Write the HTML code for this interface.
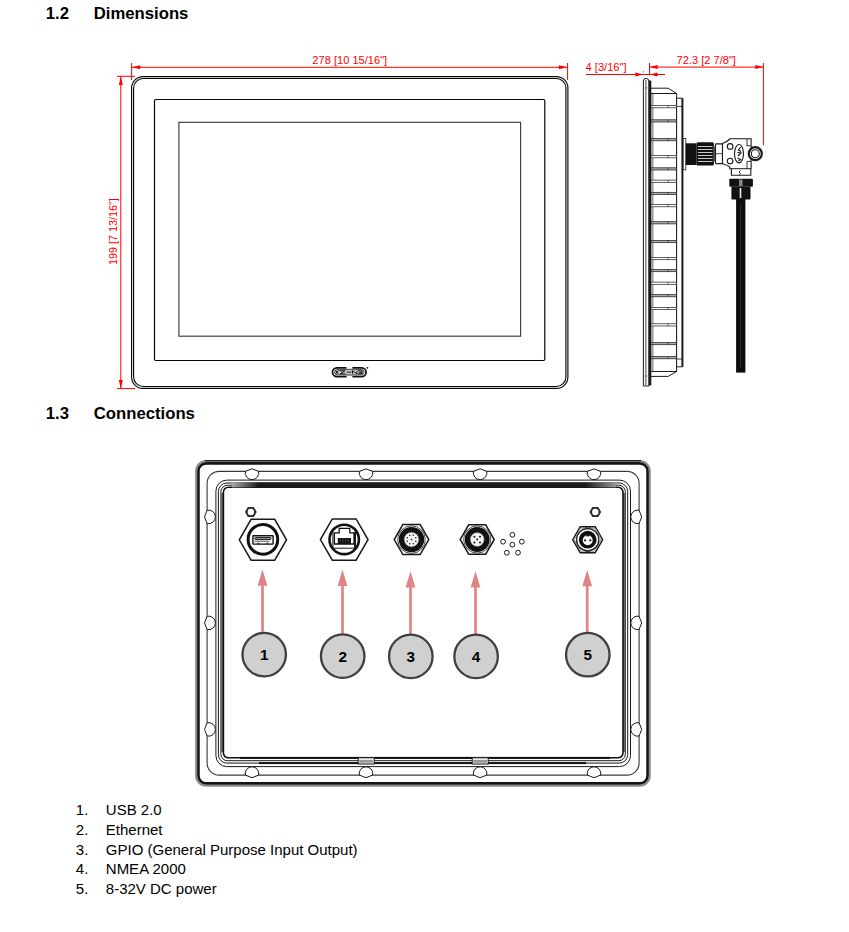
<!DOCTYPE html>
<html><head><meta charset="utf-8"><style>
html,body{margin:0;padding:0;background:#fff;width:849px;height:932px;overflow:hidden}
svg{position:absolute;left:0;top:0;display:block}
text{font-family:"Liberation Sans",sans-serif}
.h{font-size:16.7px;font-weight:bold;fill:#000}
.r{font-size:11.1px;fill:#ff0000}
.t{font-size:15px;fill:#000}
.n{font-size:15.3px;font-weight:bold;fill:#000}
</style></head><body>
<svg width="849" height="932" viewBox="0 0 849 932">
<text x="45.8" y="18.8" class="h">1.2</text>
<text x="93.8" y="18.8" class="h">Dimensions</text>
<text x="45.8" y="419.4" class="h">1.3</text>
<text x="93.8" y="419.4" class="h">Connections</text>
<rect x="131.6" y="76.6" width="436.3" height="311.8" rx="11.5" fill="none" stroke="#0a0a0a" stroke-width="1.15"/>
<rect x="133.6" y="78.5" width="432.3" height="308" rx="9.5" fill="none" stroke="#0a0a0a" stroke-width="1.15"/>
<rect x="154.5" y="99.5" width="390.3" height="261" rx="1.2" fill="none" stroke="#050505" stroke-width="1.2"/>
<rect x="178.9" y="122.3" width="341.7" height="213.9" fill="none" stroke="#3a3a3a" stroke-width="1.15"/>
<g><rect x="332.5" y="367.8" width="33.6" height="8.9" rx="4.45" fill="none" stroke="#111" stroke-width="1.8"/><rect x="346.4" y="366" width="6" height="2.8" fill="#fff"/><rect x="346.6" y="375.8" width="5.8" height="2.8" fill="#fff"/><rect x="334.6" y="369.6" width="29.4" height="5.3" rx="2.65" fill="#cfcfcf" stroke="#222" stroke-width="0.8"/><path d="M335.5,370.3 L338.5,374.2 M338.5,370.3 L335.5,374.2 M339.5,370.8 H345 L340,373.8 H345.5 M346.5,372.2 H351.5 M352.5,373.8 V370.8 L357,373.8 V370.8 M358,370.8 H362 V373.8 H358 M359,372.3 H362" fill="none" stroke="#111" stroke-width="1"/><circle cx="367.4" cy="367.8" r="0.9" fill="#111"/></g>
<line x1="131.6" y1="67.3" x2="567.6" y2="67.3" stroke="#ff0000" stroke-width="1"/>
<polygon points="131.80,67.30 140.30,65.30 140.30,69.30" fill="#ff0000"/>
<polygon points="567.40,67.30 558.90,69.30 558.90,65.30" fill="#ff0000"/>
<line x1="131.6" y1="63" x2="131.6" y2="80" stroke="#ff0000" stroke-width="1"/>
<line x1="567.6" y1="63" x2="567.6" y2="80" stroke="#ff0000" stroke-width="1"/>
<text x="312.3" y="63.5" class="r">278 [10 15/16"]</text>
<line x1="120.8" y1="76.3" x2="120.8" y2="388.6" stroke="#ff0000" stroke-width="1"/>
<polygon points="120.80,76.50 122.80,85.00 118.80,85.00" fill="#ff0000"/>
<polygon points="120.80,388.40 118.80,379.90 122.80,379.90" fill="#ff0000"/>
<line x1="116.8" y1="76.3" x2="135" y2="76.3" stroke="#ff0000" stroke-width="1"/>
<line x1="117" y1="388.6" x2="135" y2="388.6" stroke="#ff0000" stroke-width="1"/>
<text transform="translate(117.3,265.0) rotate(-90)" class="r" style="font-size:10.8px">199 [7 13/16"]</text>
<text x="585.6" y="70.6" class="r">4 [3/16"]</text>
<line x1="585.9" y1="74.5" x2="665" y2="74.5" stroke="#ff0000" stroke-width="1"/>
<polygon points="643.20,74.50 635.40,76.50 635.40,72.50" fill="#ff0000"/>
<polygon points="649.80,74.50 657.60,72.50 657.60,76.50" fill="#ff0000"/>
<circle cx="643.4" cy="71.8" r="0.6" fill="#ff0000"/>
<line x1="649.5" y1="63" x2="649.5" y2="74.5" stroke="#ff0000" stroke-width="1"/>
<line x1="649.5" y1="67.1" x2="763.4" y2="67.1" stroke="#ff0000" stroke-width="1"/>
<polygon points="649.80,67.10 657.60,65.10 657.60,69.10" fill="#ff0000"/>
<polygon points="763.10,67.10 755.30,69.10 755.30,65.10" fill="#ff0000"/>
<line x1="763.4" y1="63" x2="763.4" y2="145.4" stroke="#ff0000" stroke-width="1"/>
<text x="676.5" y="63.8" class="r">72.3 [2 7/8"]</text>
<path d="M643.4,386 V81 Q643.4,78.4 646,78.4 Q648.8,78.4 648.8,81 V386 Z" fill="#fff" stroke="#1a1a1a" stroke-width="1"/>
<line x1="645.9" y1="80" x2="645.9" y2="385" stroke="#1a1a1a" stroke-width="0.8"/>
<line x1="643.4" y1="87.9" x2="649" y2="87.9" stroke="#888" stroke-width="0.8"/>
<line x1="643.4" y1="376" x2="649" y2="376" stroke="#888" stroke-width="0.8"/>
<path d="M650.5,88.2 H668.2 L676.6,93.5 V371.5 L668.2,376.4 H650.5 Z" fill="#fff" stroke="#1a1a1a" stroke-width="1"/>
<line x1="650.5" y1="93.5" x2="676.6" y2="93.5" stroke="#1a1a1a" stroke-width="1"/>
<line x1="650.5" y1="371.5" x2="676.6" y2="371.5" stroke="#1a1a1a" stroke-width="1"/>
<rect x="648.9" y="80.5" width="2.4" height="305" fill="#1a1a1a"/>
<rect x="676.6" y="98.2" width="5.6" height="268.6" fill="#fff" stroke="#1a1a1a" stroke-width="1"/>
<rect x="681.6" y="98.2" width="1.8" height="268.6" fill="#1a1a1a"/>
<line x1="676.6" y1="106.4" x2="682" y2="106.4" stroke="#1a1a1a" stroke-width="0.8"/>
<line x1="676.6" y1="359" x2="682" y2="359" stroke="#1a1a1a" stroke-width="0.8"/>
<rect x="651.3" y="94" width="2.2" height="277" fill="#9a9a9a"/>
<rect x="651" y="105.60000000000001" width="25.6" height="2.2" fill="#fff" stroke="#1a1a1a" stroke-width="0.7"/>
<line x1="668.2" y1="105.60000000000001" x2="668.2" y2="107.8" stroke="#1a1a1a" stroke-width="0.6"/>
<rect x="651" y="119.80000000000001" width="25.6" height="2.2" fill="#aaa" stroke="#1a1a1a" stroke-width="0.7"/>
<line x1="668.2" y1="119.80000000000001" x2="668.2" y2="122.0" stroke="#1a1a1a" stroke-width="0.6"/>
<rect x="651" y="138.6" width="25.6" height="2.2" fill="#aaa" stroke="#1a1a1a" stroke-width="0.7"/>
<line x1="668.2" y1="138.6" x2="668.2" y2="140.79999999999998" stroke="#1a1a1a" stroke-width="0.6"/>
<rect x="651" y="155.6" width="25.6" height="2.2" fill="#fff" stroke="#1a1a1a" stroke-width="0.7"/>
<line x1="668.2" y1="155.6" x2="668.2" y2="157.79999999999998" stroke="#1a1a1a" stroke-width="0.6"/>
<rect x="651" y="167.8" width="25.6" height="2.2" fill="#aaa" stroke="#1a1a1a" stroke-width="0.7"/>
<line x1="668.2" y1="167.8" x2="668.2" y2="170.0" stroke="#1a1a1a" stroke-width="0.6"/>
<rect x="651" y="180.1" width="25.6" height="2.2" fill="#fff" stroke="#1a1a1a" stroke-width="0.7"/>
<line x1="668.2" y1="180.1" x2="668.2" y2="182.29999999999998" stroke="#1a1a1a" stroke-width="0.6"/>
<rect x="651" y="192.3" width="25.6" height="2.2" fill="#aaa" stroke="#1a1a1a" stroke-width="0.7"/>
<line x1="668.2" y1="192.3" x2="668.2" y2="194.5" stroke="#1a1a1a" stroke-width="0.6"/>
<rect x="651" y="204.6" width="25.6" height="2.2" fill="#fff" stroke="#1a1a1a" stroke-width="0.7"/>
<line x1="668.2" y1="204.6" x2="668.2" y2="206.79999999999998" stroke="#1a1a1a" stroke-width="0.6"/>
<rect x="651" y="221.70000000000002" width="25.6" height="2.2" fill="#aaa" stroke="#1a1a1a" stroke-width="0.7"/>
<line x1="668.2" y1="221.70000000000002" x2="668.2" y2="223.9" stroke="#1a1a1a" stroke-width="0.6"/>
<rect x="651" y="240.5" width="25.6" height="2.2" fill="#aaa" stroke="#1a1a1a" stroke-width="0.7"/>
<line x1="668.2" y1="240.5" x2="668.2" y2="242.7" stroke="#1a1a1a" stroke-width="0.6"/>
<rect x="651" y="257.5" width="25.6" height="2.2" fill="#fff" stroke="#1a1a1a" stroke-width="0.7"/>
<line x1="668.2" y1="257.5" x2="668.2" y2="259.70000000000005" stroke="#1a1a1a" stroke-width="0.6"/>
<rect x="651" y="269.5" width="25.6" height="2.2" fill="#aaa" stroke="#1a1a1a" stroke-width="0.7"/>
<line x1="668.2" y1="269.5" x2="668.2" y2="271.70000000000005" stroke="#1a1a1a" stroke-width="0.6"/>
<rect x="651" y="282.09999999999997" width="25.6" height="2.2" fill="#fff" stroke="#1a1a1a" stroke-width="0.7"/>
<line x1="668.2" y1="282.09999999999997" x2="668.2" y2="284.3" stroke="#1a1a1a" stroke-width="0.6"/>
<rect x="651" y="294.59999999999997" width="25.6" height="2.2" fill="#aaa" stroke="#1a1a1a" stroke-width="0.7"/>
<line x1="668.2" y1="294.59999999999997" x2="668.2" y2="296.8" stroke="#1a1a1a" stroke-width="0.6"/>
<rect x="651" y="307.4" width="25.6" height="2.2" fill="#fff" stroke="#1a1a1a" stroke-width="0.7"/>
<line x1="668.2" y1="307.4" x2="668.2" y2="309.6" stroke="#1a1a1a" stroke-width="0.6"/>
<rect x="651" y="323.79999999999995" width="25.6" height="2.2" fill="#fff" stroke="#1a1a1a" stroke-width="0.7"/>
<line x1="668.2" y1="323.79999999999995" x2="668.2" y2="326.0" stroke="#1a1a1a" stroke-width="0.6"/>
<rect x="651" y="342.5" width="25.6" height="2.2" fill="#aaa" stroke="#1a1a1a" stroke-width="0.7"/>
<line x1="668.2" y1="342.5" x2="668.2" y2="344.70000000000005" stroke="#1a1a1a" stroke-width="0.6"/>
<rect x="651" y="356.59999999999997" width="25.6" height="2.2" fill="#aaa" stroke="#1a1a1a" stroke-width="0.7"/>
<line x1="668.2" y1="356.59999999999997" x2="668.2" y2="358.8" stroke="#1a1a1a" stroke-width="0.6"/>
<rect x="683.2" y="138.5" width="2.6" height="31.3" fill="#fff" stroke="#1a1a1a" stroke-width="0.8"/>
<rect x="685.8" y="143.3" width="10.6" height="21.7" fill="#111"/>
<rect x="696.4" y="142.2" width="17.5" height="23.3" rx="1.5" fill="#111"/>
<line x1="698" y1="146.5" x2="712.5" y2="146.5" stroke="#ddd" stroke-width="0.9"/>
<line x1="698" y1="149.5" x2="712.5" y2="149.5" stroke="#ddd" stroke-width="0.9"/>
<line x1="698" y1="152.5" x2="712.5" y2="152.5" stroke="#ddd" stroke-width="0.9"/>
<line x1="698" y1="155.5" x2="712.5" y2="155.5" stroke="#ddd" stroke-width="0.9"/>
<line x1="698" y1="158.5" x2="712.5" y2="158.5" stroke="#ddd" stroke-width="0.9"/>
<line x1="698" y1="161.5" x2="712.5" y2="161.5" stroke="#ddd" stroke-width="0.9"/>
<rect x="713.3" y="146.5" width="2.4" height="15" fill="#555"/>
<rect x="715.5" y="143.9" width="7" height="19.7" rx="0.8" fill="#fff" stroke="#1a1a1a" stroke-width="1.1"/>
<line x1="716" y1="153.7" x2="722" y2="153.7" stroke="#1a1a1a" stroke-width="0.8"/>
<path d="M722.5,143.6 Q727,142 729.8,139 V138.8 H751.1 V168.7 H750.8 V175.3 H731.4 V168.7 H729.8 V167 Q727,165 722.5,163.8 Z" fill="#fff" stroke="#1a1a1a" stroke-width="1.1"/>
<line x1="731.4" y1="168.7" x2="750.8" y2="168.7" stroke="#1a1a1a" stroke-width="1"/>
<path d="M747,138.8 V145.8 H751 M747,168.7 V161.4 H751" fill="none" stroke="#1a1a1a" stroke-width="0.9"/>
<circle cx="730.1" cy="146.4" r="2.8" fill="#fff" stroke="#1a1a1a" stroke-width="1.1"/>
<circle cx="730.1" cy="161" r="2.8" fill="#fff" stroke="#1a1a1a" stroke-width="1.1"/>
<ellipse cx="739" cy="153.7" rx="4.5" ry="9.2" fill="#fff" stroke="#1a1a1a" stroke-width="1.1"/>
<path d="M740.5,147 L738.5,150 L741,151.5 M737.5,152.5 L741,153 L738,156 M737.5,158 L740.5,159.5 L738.5,161" fill="none" stroke="#1a1a1a" stroke-width="1.2"/>
<circle cx="755.3" cy="153.7" r="6.5" fill="#fff" stroke="#1a1a1a" stroke-width="2.2"/>
<circle cx="755.3" cy="153.7" r="4" fill="#fff" stroke="#1a1a1a" stroke-width="1.1"/>
<path d="M740.5,170.5 l-1.5,1.5 l1.5,1.5 l-1.5,1.5" fill="none" stroke="#1a1a1a" stroke-width="0.9"/>
<rect x="729.3" y="178.8" width="23.6" height="7.9" rx="1" fill="#111"/>
<rect x="739" y="179.5" width="3.5" height="6.5" fill="#888"/>
<rect x="731.4" y="186.7" width="19.1" height="12.7" rx="1" fill="#111"/>
<rect x="739.7" y="188" width="1.6" height="10" fill="#eee"/>
<rect x="736.1" y="199" width="9.3" height="173.6" fill="#0d0d0d"/>
<line x1="740.6" y1="205" x2="740.6" y2="368" stroke="#555" stroke-width="0.5"/>
<rect x="196.15" y="461.05" width="453.6" height="324.7" rx="10" fill="none" stroke="#8c8c8c" stroke-width="2.1"/>
<rect x="198.45" y="463.4" width="449.1" height="320" rx="7.7" fill="none" stroke="#141414" stroke-width="2.6"/>
<line x1="205" y1="460.6" x2="641" y2="460.6" stroke="#222" stroke-width="1.1"/>
<rect x="207.1" y="471.4" width="432" height="303.7" rx="12" fill="none" stroke="#3a3a3a" stroke-width="1.1"/>
<rect x="215.9" y="480.1" width="414.6" height="286.5" rx="11" fill="none" stroke="#1a1a1a" stroke-width="1"/>
<rect x="218.4" y="483" width="409.3" height="280.1" rx="8.5" fill="none" stroke="#1a1a1a" stroke-width="1"/>
<rect x="220.9" y="485.2" width="404.4" height="275.5" rx="6.5" fill="none" stroke="#1a1a1a" stroke-width="1"/>
<line x1="222.2" y1="493" x2="222.2" y2="752" stroke="#666" stroke-width="2.2"/>
<line x1="624.2" y1="493" x2="624.2" y2="752" stroke="#666" stroke-width="2.2"/>
<rect x="223.4" y="487.2" width="399.6" height="270.6" rx="5" fill="none" stroke="#111" stroke-width="1.6"/>
<defs><linearGradient id="tb" x1="0" x2="1" y1="0" y2="0"><stop offset="0" stop-color="#aaa"/><stop offset="0.07" stop-color="#1a1a1a"/><stop offset="0.92" stop-color="#1a1a1a"/><stop offset="1" stop-color="#999"/></linearGradient></defs>
<rect x="232" y="482.4" width="384" height="5" fill="url(#tb)"/>
<rect x="259" y="762.1" width="327" height="2" fill="#111"/>
<rect x="240" y="756.9" width="370" height="2" fill="#111"/>
<rect x="358.2" y="757.8" width="16" height="6.2" fill="#fff" stroke="#1a1a1a" stroke-width="1"/>
<rect x="359.2" y="759.8" width="14" height="3" fill="#999"/>
<rect x="472.2" y="757.8" width="16" height="6.2" fill="#fff" stroke="#1a1a1a" stroke-width="1"/>
<rect x="473.2" y="759.8" width="14" height="3" fill="#999"/>
<path d="M258.63,471.40 A6.8,6.8 0 1 1 245.37,471.40 L252.00,468.80 Z" fill="#fff" stroke="#1a1a1a" stroke-width="1"/>
<path d="M245.37,775.10 A6.8,6.8 0 1 1 258.63,775.10 L252.00,777.70 Z" fill="#fff" stroke="#1a1a1a" stroke-width="1"/>
<path d="M372.63,471.40 A6.8,6.8 0 1 1 359.37,471.40 L366.00,468.80 Z" fill="#fff" stroke="#1a1a1a" stroke-width="1"/>
<path d="M359.37,775.10 A6.8,6.8 0 1 1 372.63,775.10 L366.00,777.70 Z" fill="#fff" stroke="#1a1a1a" stroke-width="1"/>
<path d="M486.73,471.40 A6.8,6.8 0 1 1 473.47,471.40 L480.10,468.80 Z" fill="#fff" stroke="#1a1a1a" stroke-width="1"/>
<path d="M473.47,775.10 A6.8,6.8 0 1 1 486.73,775.10 L480.10,777.70 Z" fill="#fff" stroke="#1a1a1a" stroke-width="1"/>
<path d="M600.63,471.40 A6.8,6.8 0 1 1 587.37,471.40 L594.00,468.80 Z" fill="#fff" stroke="#1a1a1a" stroke-width="1"/>
<path d="M587.37,775.10 A6.8,6.8 0 1 1 600.63,775.10 L594.00,777.70 Z" fill="#fff" stroke="#1a1a1a" stroke-width="1"/>
<path d="M207.10,510.27 A6.8,6.8 0 1 1 207.10,523.53 L204.50,516.90 Z" fill="#fff" stroke="#1a1a1a" stroke-width="1"/>
<path d="M639.10,523.53 A6.8,6.8 0 1 1 639.10,510.27 L641.70,516.90 Z" fill="#fff" stroke="#1a1a1a" stroke-width="1"/>
<path d="M207.10,616.27 A6.8,6.8 0 1 1 207.10,629.53 L204.50,622.90 Z" fill="#fff" stroke="#1a1a1a" stroke-width="1"/>
<path d="M639.10,629.53 A6.8,6.8 0 1 1 639.10,616.27 L641.70,622.90 Z" fill="#fff" stroke="#1a1a1a" stroke-width="1"/>
<path d="M207.10,722.77 A6.8,6.8 0 1 1 207.10,736.03 L204.50,729.40 Z" fill="#fff" stroke="#1a1a1a" stroke-width="1"/>
<path d="M639.10,736.03 A6.8,6.8 0 1 1 639.10,722.77 L641.70,729.40 Z" fill="#fff" stroke="#1a1a1a" stroke-width="1"/>
<polygon points="256.70,512.00 253.75,517.11 247.85,517.11 244.90,512.00 247.85,506.89 253.75,506.89" fill="#2a2a2a"/>
<circle cx="250.8" cy="512" r="3.2" fill="#fff"/>
<polygon points="601.20,512.00 598.25,517.11 592.35,517.11 589.40,512.00 592.35,506.89 598.25,506.89" fill="#2a2a2a"/>
<circle cx="595.3" cy="512" r="3.2" fill="#fff"/>
<polygon points="286.50,539.80 274.70,560.24 251.10,560.24 239.30,539.80 251.10,519.36 274.70,519.36" fill="#fff" stroke="#1a1a1a" stroke-width="1.5"/>
<circle cx="262.9" cy="539.4" r="14.8" fill="#fff" stroke="#111" stroke-width="3"/>
<rect x="252.9" y="535.7" width="20.2" height="8.4" rx="0.6" fill="#fff" stroke="#111" stroke-width="1.4"/>
<rect x="254.7" y="537.5" width="16.4" height="2" rx="1" fill="#999" stroke="#111" stroke-width="0.9"/>
<path d="M254.5,541 q1.5,1 3,0 q1.5,1 3,0 q1.5,1 3,0 q1.5,1 3,0 q1.5,1 3,0 M256.5,544 q1.8,-2 3.6,0 M265.6,544 q1.8,-2 3.6,0" fill="none" stroke="#222" stroke-width="0.8"/>
<polygon points="368.00,539.60 356.10,560.21 332.30,560.21 320.40,539.60 332.30,518.99 356.10,518.99" fill="#fff" stroke="#1a1a1a" stroke-width="1.5"/>
<circle cx="344.2" cy="539.4" r="14.7" fill="#fff" stroke="#111" stroke-width="2.6"/>
<path d="M332.9,531.5 V548.2 H355.3 V531.5" fill="none" stroke="#111" stroke-width="1"/>
<line x1="355" y1="532" x2="355" y2="548" stroke="#111" stroke-width="1.8"/>
<path d="M334.4,544 V532.8 H339.2 V528.4 H349.8 V532.8 H354 V544 Z" fill="#fff" stroke="#111" stroke-width="1.3"/>
<rect x="337.8" y="538" width="13.2" height="6" fill="#111"/>
<line x1="340.3" y1="538.5" x2="340.3" y2="542.5" stroke="#666" stroke-width="0.5"/>
<line x1="342.9" y1="538.5" x2="342.9" y2="542.5" stroke="#666" stroke-width="0.5"/>
<line x1="345.5" y1="538.5" x2="345.5" y2="542.5" stroke="#666" stroke-width="0.5"/>
<line x1="348.1" y1="538.5" x2="348.1" y2="542.5" stroke="#666" stroke-width="0.5"/>
<polygon points="428.80,539.60 420.15,554.58 402.85,554.58 394.20,539.60 402.85,524.62 420.15,524.62" fill="#fff" stroke="#1a1a1a" stroke-width="1.5"/>
<circle cx="411.5" cy="539.6" r="12.7" fill="#111"/>
<circle cx="411.5" cy="539.6" r="13.8" fill="none" stroke="#1a1a1a" stroke-width="0.8"/>
<circle cx="411.5" cy="539.6" r="7.4" fill="#f4f4f4" stroke="#555" stroke-width="0.6"/>
<circle cx="415.75" cy="541.36" r="0.75" fill="#111"/>
<circle cx="413.26" cy="543.85" r="0.75" fill="#111"/>
<circle cx="409.74" cy="543.85" r="0.75" fill="#111"/>
<circle cx="407.25" cy="541.36" r="0.75" fill="#111"/>
<circle cx="407.25" cy="537.84" r="0.75" fill="#111"/>
<circle cx="409.74" cy="535.35" r="0.75" fill="#111"/>
<circle cx="413.26" cy="535.35" r="0.75" fill="#111"/>
<circle cx="415.75" cy="537.84" r="0.75" fill="#111"/>
<circle cx="411.5" cy="539.6" r="0.8" fill="#111"/>
<polygon points="494.20,539.50 485.70,554.22 468.70,554.22 460.20,539.50 468.70,524.78 485.70,524.78" fill="#fff" stroke="#1a1a1a" stroke-width="1.5"/>
<circle cx="477.2" cy="539.5" r="12.5" fill="#111"/>
<circle cx="477.2" cy="539.5" r="13.6" fill="none" stroke="#1a1a1a" stroke-width="0.8"/>
<circle cx="477.2" cy="539.5" r="7" fill="#f4f4f4" stroke="#555" stroke-width="0.6"/>
<circle cx="474.4" cy="536.8000000000001" r="1.0" fill="#111"/>
<circle cx="480.0" cy="536.8000000000001" r="1.0" fill="#111"/>
<circle cx="474.4" cy="542.4" r="1.0" fill="#111"/>
<circle cx="480.0" cy="542.4" r="1.0" fill="#111"/>
<circle cx="477.2" cy="539.6" r="1.0" fill="#111"/>
<circle cx="512.4" cy="534.8" r="2.4" fill="#fff" stroke="#1a1a1a" stroke-width="1"/>
<circle cx="503.1" cy="541.7" r="2.4" fill="#fff" stroke="#1a1a1a" stroke-width="1"/>
<circle cx="521.8" cy="541.7" r="2.4" fill="#fff" stroke="#1a1a1a" stroke-width="1"/>
<circle cx="512.4" cy="544.7" r="2.4" fill="#fff" stroke="#1a1a1a" stroke-width="1"/>
<circle cx="506.8" cy="552.7" r="2.4" fill="#fff" stroke="#1a1a1a" stroke-width="1"/>
<circle cx="518.0" cy="552.7" r="2.4" fill="#fff" stroke="#1a1a1a" stroke-width="1"/>
<polygon points="602.70,539.70 595.20,552.69 580.20,552.69 572.70,539.70 580.20,526.71 595.20,526.71" fill="#fff" stroke="#1a1a1a" stroke-width="1.4"/>
<polygon points="601.00,539.70 594.35,551.22 581.05,551.22 574.40,539.70 581.05,528.18 594.35,528.18" fill="none" stroke="#666" stroke-width="0.7"/>
<path d="M584.7,526.4 L587.7,528.6 L590.7,526.4 M584.7,553 L587.7,550.8 L590.7,553" fill="none" stroke="#1a1a1a" stroke-width="1"/>
<circle cx="587.7" cy="539.7" r="11.1" fill="#fff" stroke="#1a1a1a" stroke-width="1.3"/>
<circle cx="587.7" cy="539.7" r="8.9" fill="#111"/>
<circle cx="587.7" cy="540.2" r="5" fill="#fff"/>
<rect x="586.4" y="534.6" width="2.6" height="1.8" fill="#111"/>
<circle cx="585.1" cy="540.3" r="1.15" fill="#111"/><circle cx="590.3" cy="540.3" r="1.15" fill="#111"/>
<line x1="262.5" y1="584.5" x2="262.5" y2="633.6" stroke="#e08484" stroke-width="2.7"/>
<polygon points="262.5,569.5 257.6,585.8 267.4,585.8" fill="#e08484"/>
<circle cx="264.2" cy="654.6" r="21.75" fill="#d0d0d0" stroke="#404040" stroke-width="2.3"/>
<text x="264.2" y="660.2" class="n" text-anchor="middle">1</text>
<line x1="342.5" y1="584.6" x2="342.5" y2="635.1" stroke="#e08484" stroke-width="2.7"/>
<polygon points="342.5,569.6 337.6,585.9 347.4,585.9" fill="#e08484"/>
<circle cx="342.7" cy="656.1" r="21.75" fill="#d0d0d0" stroke="#404040" stroke-width="2.3"/>
<text x="342.7" y="661.7" class="n" text-anchor="middle">2</text>
<line x1="410.5" y1="586.3" x2="410.5" y2="635.4" stroke="#e08484" stroke-width="2.7"/>
<polygon points="410.5,571.3 405.6,587.5999999999999 415.4,587.5999999999999" fill="#e08484"/>
<circle cx="410.8" cy="656.4" r="21.75" fill="#d0d0d0" stroke="#404040" stroke-width="2.3"/>
<text x="410.8" y="662.0" class="n" text-anchor="middle">3</text>
<line x1="475.5" y1="586.3" x2="475.5" y2="635.4" stroke="#e08484" stroke-width="2.7"/>
<polygon points="475.5,571.3 470.6,587.5999999999999 480.4,587.5999999999999" fill="#e08484"/>
<circle cx="476.1" cy="656.4" r="21.75" fill="#d0d0d0" stroke="#404040" stroke-width="2.3"/>
<text x="476.1" y="662.0" class="n" text-anchor="middle">4</text>
<line x1="587.2" y1="584.9" x2="587.2" y2="633.7" stroke="#e08484" stroke-width="2.7"/>
<polygon points="587.2,569.9 582.3000000000001,586.1999999999999 592.1,586.1999999999999" fill="#e08484"/>
<circle cx="587.8" cy="654.7" r="21.75" fill="#d0d0d0" stroke="#404040" stroke-width="2.3"/>
<text x="587.8" y="660.3000000000001" class="n" text-anchor="middle">5</text>
<text x="75.8" y="814.7" class="t">1.</text>
<text x="105.8" y="814.7" class="t">USB 2.0</text>
<text x="75.8" y="834.5" class="t">2.</text>
<text x="105.8" y="834.5" class="t">Ethernet</text>
<text x="75.8" y="854.6" class="t">3.</text>
<text x="105.8" y="854.6" class="t">GPIO (General Purpose Input Output)</text>
<text x="75.8" y="874.4" class="t">4.</text>
<text x="105.8" y="874.4" class="t">NMEA 2000</text>
<text x="75.8" y="893.9" class="t">5.</text>
<text x="105.8" y="893.9" class="t">8-32V DC power</text>
</svg>
</body></html>
